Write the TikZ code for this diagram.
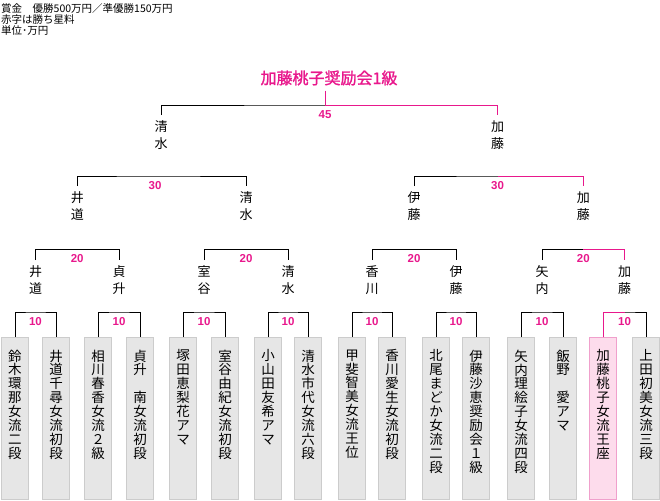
\documentclass[tikz,border=0pt]{standalone}
\usepackage{fontspec}
\setmainfont{Noto Sans CJK JP}
\newfontfamily\numfont{Liberation Sans}
\newfontfamily\titlefont{Noto Sans CJK JP}[FakeBold=1.5]
\usetikzlibrary{positioning}
\definecolor{winner}{RGB}{232,24,140}
\definecolor{boxgray}{RGB}{230,230,230}
\definecolor{edgegray}{RGB}{204,204,204}
\definecolor{boxpink}{RGB}{253,220,236}
\definecolor{edgepink}{RGB}{240,160,204}

% one character per line
\newcommand\tatestop{}
\newcommand\tate[1]{\tatechar#1\tatestop}
\def\tatechar#1{\ifx#1\tatestop\else#1\\\expandafter\tatechar\fi}

\begin{document}
\begin{tikzpicture}[
    x=1pt, y=-1pt,
    player/.style={rectangle, draw=edgegray, fill=boxgray, line width=1pt, minimum width=27pt, minimum height=162pt, inner sep=0pt, outer sep=0pt, anchor=north},
    champbox/.style={draw=edgepink, fill=boxpink},
    playername/.style={anchor=north, inner sep=0pt, align=center, font=\fontsize{13.5}{13.9}\selectfont},
    seed/.style={anchor=north, inner sep=0pt, outer ysep=6pt, align=center, font=\fontsize{13}{16.5}\selectfont},
    prize/.style={text=winner, inner sep=0pt, font=\numfont\bfseries\fontsize{11.5}{12}\selectfont},
    bracket/.style={draw=black, line width=1pt},
    champ/.style={draw=winner, line width=1pt}
]
    \useasboundingbox (0,0) rectangle (660,500);

    % Notes
    \node[anchor=north west, inner sep=0pt, align=left, font=\fontsize{10.5}{11}\selectfont] (note) at (1,3) {賞金　優勝500万円／準優勝150万円\\赤字は勝ち星料\\単位･万円};

    % Players
    \node[player] (p1) at (15,337) {};
    \node[playername, below=12.5pt of p1.north] (t1) {\tate{鈴木環那女流二段}};
    \node[player] (p2) at (56,337) {};
    \node[playername, below=12.5pt of p2.north] (t2) {\tate{井道千尋女流初段}};
    \node[player] (p3) at (98,337) {};
    \node[playername, below=12.5pt of p3.north] (t3) {\tate{相川春香女流２級}};
    \node[player] (p4) at (140,337) {};
    \node[playername, below=12.5pt of p4.north] (t4) {\tate{貞升　南女流初段}};
    \node[player] (p5) at (183,337) {};
    \node[playername, below=12.5pt of p5.north] (t5) {\tate{塚田恵梨花アマ}};
    \node[player] (p6) at (225,337) {};
    \node[playername, below=12.5pt of p6.north] (t6) {\tate{室谷由紀女流初段}};
    \node[player] (p7) at (268,337) {};
    \node[playername, below=12.5pt of p7.north] (t7) {\tate{小山田友希アマ}};
    \node[player] (p8) at (308,337) {};
    \node[playername, below=12.5pt of p8.north] (t8) {\tate{清水市代女流六段}};
    \node[player] (p9) at (352,337) {};
    \node[playername, below=12.5pt of p9.north] (t9) {\tate{甲斐智美女流王位}};
    \node[player] (p10) at (392,337) {};
    \node[playername, below=12.5pt of p10.north] (t10) {\tate{香川愛生女流初段}};
    \node[player] (p11) at (436,337) {};
    \node[playername, below=12.5pt of p11.north] (t11) {\tate{北尾まどか女流二段}};
    \node[player] (p12) at (476,337) {};
    \node[playername, below=12.5pt of p12.north] (t12) {\tate{伊藤沙恵奨励会１級}};
    \node[player] (p13) at (521,337) {};
    \node[playername, below=12.5pt of p13.north] (t13) {\tate{矢内理絵子女流四段}};
    \node[player] (p14) at (563,337) {};
    \node[playername, below=12.5pt of p14.north] (t14) {\tate{飯野　愛アマ}};
    \node[player, champbox] (p15) at (603,337) {};
    \node[playername, below=12.5pt of p15.north] (t15) {\tate{加藤桃子女流王座}};
    \node[player] (p16) at (646,337) {};
    \node[playername, below=12.5pt of p16.north] (t16) {\tate{上田初美女流三段}};

    % Winners of each round
    \node[seed] (s1) at (35.5,260) {井\\道};
    \node[seed] (s2) at (119,260) {貞\\升};
    \node[seed] (s3) at (204,260) {室\\谷};
    \node[seed] (s4) at (288,260) {清\\水};
    \node[seed] (s5) at (372,260) {香\\川};
    \node[seed] (s6) at (456,260) {伊\\藤};
    \node[seed] (s7) at (542,260) {矢\\内};
    \node[seed] (s8) at (624.5,260) {加\\藤};
    \node[seed] (q1) at (77.25,186) {井\\道};
    \node[seed] (q2) at (246,186) {清\\水};
    \node[seed] (q3) at (414,186) {伊\\藤};
    \node[seed] (q4) at (583.25,186) {加\\藤};
    \node[seed] (f1) at (161,115) {清\\水};
    \node[seed] (f2) at (497.5,115) {加\\藤};
    \node[text=winner, font=\titlefont\fontsize{16}{16}\selectfont, inner sep=5pt] (champion) at (329,78) {加藤桃子奨励会1級};

    % Bracket corners
    \coordinate (m1) at (35.5,312);
    \coordinate (m2) at (119,312);
    \coordinate (m3) at (204,312);
    \coordinate (m4) at (288,312);
    \coordinate (m5) at (372,312);
    \coordinate (m6) at (456,312);
    \coordinate (m7) at (542,312);
    \coordinate (m8) at (624.5,312);
    \coordinate (n1) at (77.25,249.5);
    \coordinate (n2) at (246,249.5);
    \coordinate (n3) at (414,249.5);
    \coordinate (n4) at (583.25,249.5);
    \coordinate (o1) at (155,176);
    \coordinate (o2) at (497.5,176);
    \coordinate (final) at (325,105);

    % Brackets
    \draw[bracket] (p1.north) |- (m1) -| (p2.north);
    \draw[bracket] (p3.north) |- (m2) -| (p4.north);
    \draw[bracket] (p5.north) |- (m3) -| (p6.north);
    \draw[bracket] (p7.north) |- (m4) -| (p8.north);
    \draw[bracket] (p9.north) |- (m5) -| (p10.north);
    \draw[bracket] (p11.north) |- (m6) -| (p12.north);
    \draw[bracket] (p13.north) |- (m7) -| (p14.north);
    \draw[bracket] (p15.north) |- (m8) -| (p16.north);
    \draw[bracket] (s1.north) |- (n1) -| (s2.north);
    \draw[bracket] (s3.north) |- (n2) -| (s4.north);
    \draw[bracket] (s5.north) |- (n3) -| (s6.north);
    \draw[bracket] (s7.north) |- (n4) -| (s8.north);
    \draw[bracket] (q1.north) |- (o1) -| (q2.north);
    \draw[bracket] (q3.north) |- (o2) -| (q4.north);
    \draw[bracket] (f1.north) |- (final) -| (f2.north);

    % Path of the champion
    \draw[champ] (p15.north) |- (m8);
    \draw[champ] (n4) -| (s8.north);
    \draw[champ] (o2) -| (q4.north);
    \draw[champ] (final) -| (f2.north);
    \draw[champ] (champion.south -| final) -- (final);

    % Prize money
    \node[prize, below=5pt of m1] (w1) {10};
    \node[prize, below=5pt of m2] (w2) {10};
    \node[prize, below=5pt of m3] (w3) {10};
    \node[prize, below=5pt of m4] (w4) {10};
    \node[prize, below=5pt of m5] (w5) {10};
    \node[prize, below=5pt of m6] (w6) {10};
    \node[prize, below=5pt of m7] (w7) {10};
    \node[prize, below=5pt of m8] (w8) {10};
    \node[prize, below=5pt of n1] (v1) {20};
    \node[prize, below=5pt of n2] (v2) {20};
    \node[prize, below=5pt of n3] (v3) {20};
    \node[prize, below=5pt of n4] (v4) {20};
    \node[prize, below=5pt of o1] (u1) {30};
    \node[prize, below=5pt of o2] (u2) {30};
    \node[prize, below=5.5pt of final] (top) {45};
\end{tikzpicture}
\end{document}
